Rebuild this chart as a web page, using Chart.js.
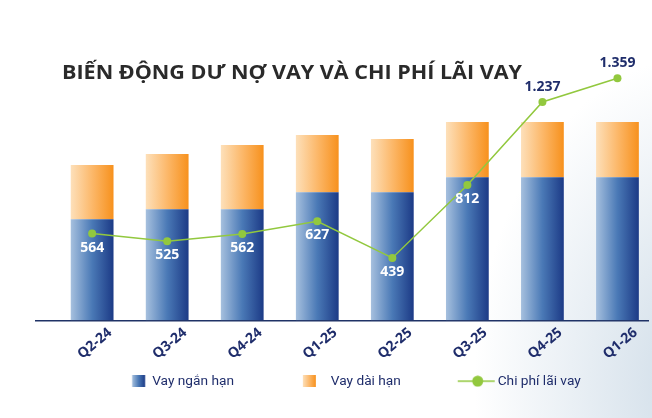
<!DOCTYPE html>
<html>
<head>
<meta charset="utf-8">
<script src="https://cdn.jsdelivr.net/npm/chart.js@4.4.1/dist/chart.umd.min.js"></script>
<style>
  html, body { margin: 0; padding: 0; width: 652px; height: 418px; overflow: hidden; }
  body {
    position: relative;
    background:
      radial-gradient(ellipse 230px 330px at 108% 92%, #cddbe7 0%, rgba(255,255,255,0) 100%),
      #ffffff;
  }
  #wrap { position: absolute; left: 0; top: 0; width: 652px; height: 418px; }
  #title {
    position: absolute; left: 62px; top: 58px;
    font: bold 20px "Open Sans", sans-serif; color: #2a2a2a;
    white-space: nowrap; transform-origin: 0 0;
  }
</style>
</head>
<body>
<div id="wrap"><canvas id="chart" width="652" height="418"></canvas></div>
<div id="title">BIẾN ĐỘNG DƯ NỢ VAY VÀ CHI PHÍ LÃI VAY</div>
<script>
// ---- data ----
const quarters = ['Q2-24', 'Q3-24', 'Q4-24', 'Q1-25', 'Q2-25', 'Q3-25', 'Q4-25', 'Q1-26'];
const shortTermLoans = [101, 111, 111, 128, 128, 143, 143, 143];   // Vay ngắn hạn (estimated, unlabeled)
const longTermLoans  = [54, 55, 64, 57, 53, 55, 55, 55];           // Vay dài hạn (estimated, unlabeled)
const interestExpense = [564, 525, 562, 627, 439, 812, 1237, 1359]; // Chi phí lãi vay
const seriesNames = ['Vay ngắn hạn', 'Vay dài hạn', 'Chi phí lãi vay'];

const BAR_FRACTION = 0.57;
const NAVY = '#1f2d6b';
const GREEN = '#92c83e';
const LEGEND_MARK_W = 74;   // space reserved before each legend text
const LEGEND_FONT = 13.7;

function fmt(v) { return String(v).replace(/\B(?=(\d{3})+(?!\d))/g, '.'); }

function barFill(light, mid, dark) {
  return (c) => {
    const chart = c.chart, xs = chart.scales.x;
    if (c.type !== 'data' || !xs || !c.parsed) return dark;
    const center = xs.getPixelForValue(c.parsed.x);
    const half = Math.abs(xs.getPixelForValue(1) - xs.getPixelForValue(0)) * BAR_FRACTION / 2;
    const g = chart.ctx.createLinearGradient(center - half, 0, center + half, 0);
    g.addColorStop(0, light); g.addColorStop(0.5, mid); g.addColorStop(1, dark);
    return g;
  };
}

const BLUE = ['#a6c0de', '#4a79b6', '#1c3a86'];
const ORANGE = ['#fde0ba', '#fcb86a', '#f7911d'];

// legend marks: small canvases used as point styles, centred on the reserved space.
// canvas width CW centred on itemStart + W/2 ; text starts at itemStart + W + font/2
const CW = 110;
const textXInCanvas = CW / 2 + LEGEND_MARK_W / 2 + LEGEND_FONT / 2;
function swatch(colors, gapBeforeText) {
  const c = document.createElement('canvas'); c.width = CW; c.height = 12;
  const g = c.getContext('2d');
  const x0 = textXInCanvas - gapBeforeText - 13;
  const gr = g.createLinearGradient(x0, 0, x0 + 13, 0);
  gr.addColorStop(0, colors[0]); gr.addColorStop(0.5, colors[1]); gr.addColorStop(1, colors[2]);
  g.fillStyle = gr; g.fillRect(x0, 0, 13, 12);
  return c;
}
function lineMark() {
  const c = document.createElement('canvas'); c.width = CW; c.height = 12;
  const g = c.getContext('2d');
  const tx = textXInCanvas;
  g.strokeStyle = GREEN; g.lineWidth = 1.5;
  g.beginPath(); g.moveTo(tx - 40, 6); g.lineTo(tx - 3, 6); g.stroke();
  g.fillStyle = GREEN; g.beginPath(); g.arc(tx - 20, 6, 5.5, 0, Math.PI * 2); g.fill();
  return c;
}
const legendMarks = [swatch(BLUE, 7), swatch(ORANGE, 15), lineMark()];

const pointLabels = {
  id: 'pointLabels',
  afterDatasetsDraw(chart) {
    const ctx = chart.ctx;
    const lineMeta = chart.getDatasetMeta(2);
    const topMeta = chart.getDatasetMeta(1);
    ctx.save();
    ctx.font = 'bold 14px "Open Sans", sans-serif';
    ctx.textAlign = 'center'; ctx.textBaseline = 'middle';
    lineMeta.data.forEach((pt, i) => {
      const barTop = topMeta.data[i].y;
      const above = pt.y < barTop;
      ctx.fillStyle = above ? NAVY : '#ffffff';
      ctx.fillText(fmt(interestExpense[i]), pt.x, pt.y + (above ? -15 : 14));
    });
    ctx.restore();
  }
};

const toPoints = (arr) => arr.map((v, i) => ({ x: i, y: v }));

new Chart(document.getElementById('chart'), {
  type: 'bar',
  data: {
    datasets: [
      { type: 'bar', label: seriesNames[0], data: toPoints(shortTermLoans), yAxisID: 'y', order: 1,
        backgroundColor: barFill(...BLUE), borderWidth: 0 },
      { type: 'bar', label: seriesNames[1], data: toPoints(longTermLoans), yAxisID: 'y', order: 1,
        backgroundColor: barFill(...ORANGE), borderWidth: 0 },
      { type: 'line', label: seriesNames[2], data: toPoints(interestExpense), yAxisID: 'y1', order: 0,
        borderColor: GREEN, borderWidth: 1.5, tension: 0, clip: false,
        pointRadius: 4, pointBackgroundColor: GREEN, pointBorderWidth: 0 }
    ]
  },
  options: {
    responsive: false,
    animation: false,
    devicePixelRatio: 1,
    categoryPercentage: 1,
    barPercentage: BAR_FRACTION,
    layout: { padding: { top: 60, left: 0, right: 0, bottom: 20 } },
    scales: {
      x: {
        type: 'linear', min: -0.748, max: 7.407, stacked: true, offset: false,
        grid: { display: false, drawTicks: false },
        border: { display: true, color: '#1f3266', width: 1.5 },
        afterBuildTicks: (s) => { s.ticks = quarters.map((q, i) => ({ value: i })); },
        afterFit: (s) => { s.height = 38; },
        ticks: {
          autoSkip: false, minRotation: 40, maxRotation: 40, labelOffset: 18, padding: 4,
          color: NAVY, font: { family: 'Open Sans', weight: 'bold', size: 14 },
          callback: (v) => quarters[v]
        }
      },
      // invisible value axis that only reserves the left margin of the plot
      y: {
        display: true, stacked: true, min: 0, max: 260,
        ticks: { display: false }, grid: { display: false }, border: { display: false },
        afterFit: (s) => { s.width = 36; }
      },
      y1: { display: false, min: 120, max: 1452 }
    },
    plugins: {
      tooltip: { enabled: false },
      legend: {
        position: 'bottom',
        labels: {
          usePointStyle: true, pointStyleWidth: LEGEND_MARK_W, boxHeight: 12, padding: 16,
          color: NAVY, font: { family: 'Roboto', size: LEGEND_FONT },
          generateLabels: () => seriesNames.map((name, i) => ({
            text: name, pointStyle: legendMarks[i], fontColor: NAVY,
            fillStyle: 'transparent', strokeStyle: 'transparent', lineWidth: 0, datasetIndex: i, hidden: false
          }))
        }
      }
    }
  },
  plugins: [pointLabels]
});

// fit the title to the measured width of the original heading
const t = document.getElementById('title');
const w = t.getBoundingClientRect().width;
t.style.transform = 'scaleX(' + (460 / w) + ')';
</script>
</body>
</html>
